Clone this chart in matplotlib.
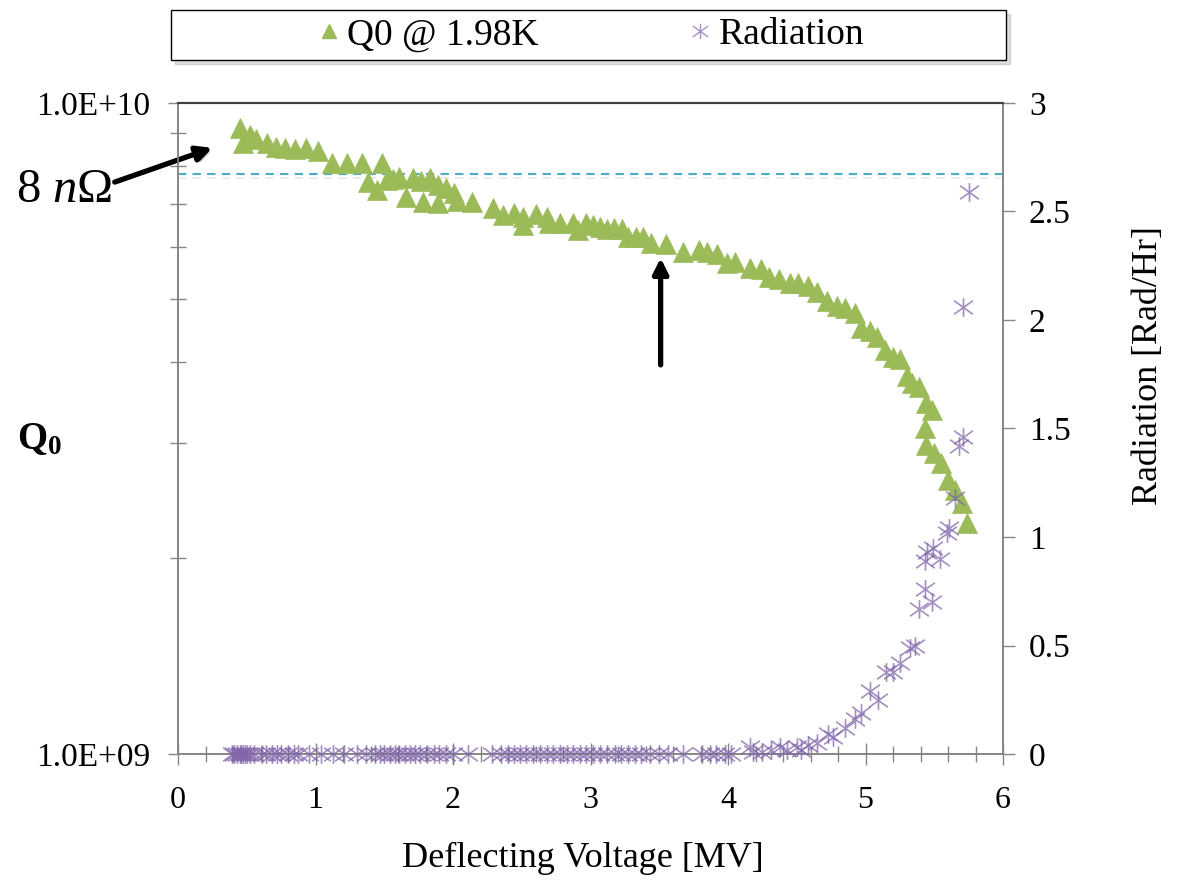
import matplotlib
matplotlib.use("Agg")
import matplotlib.pyplot as plt
import matplotlib.ticker as mticker
import matplotlib.patches as mpatches
import matplotlib.patheffects as pe
from matplotlib.path import Path
from matplotlib.lines import Line2D

plt.rcParams['font.family'] = ['Liberation Serif', 'DejaVu Serif']
plt.rcParams['mathtext.fontset'] = 'custom'
plt.rcParams['mathtext.rm'] = 'Liberation Serif'
plt.rcParams['mathtext.it'] = 'Liberation Serif:italic'
plt.rcParams['mathtext.bf'] = 'Liberation Serif:bold'

# ---------------- data ----------------
q_voltage = [0.45, 0.47, 0.52, 0.57, 0.65, 0.71, 0.78, 0.85, 0.93, 1.02,
             1.12, 1.23, 1.34, 1.38, 1.45, 1.48, 1.52, 1.56, 1.61, 1.66,
             1.71, 1.77, 1.78, 1.83, 1.89, 1.89, 1.95, 2.01, 2.03, 2.14,
             2.29, 2.36, 2.44, 2.51, 2.51, 2.60, 2.68, 2.70, 2.78, 2.87,
             2.91, 2.97, 3.02, 3.07, 3.12, 3.17, 3.23, 3.27, 3.33, 3.38,
             3.44, 3.55, 3.67, 3.79, 3.85, 3.92, 3.99, 4.05, 4.16, 4.24,
             4.30, 4.37, 4.45, 4.51, 4.58, 4.65, 4.72, 4.79, 4.85, 4.92,
             4.97, 5.03, 5.08, 5.14, 5.20, 5.25, 5.30, 5.34, 5.39, 5.44,
             5.48, 5.43, 5.44, 5.50, 5.55, 5.60, 5.65, 5.70, 5.74]
q0_values = [9.15e9, 8.68e9, 8.93e9, 8.80e9, 8.68e9, 8.56e9, 8.53e9, 8.50e9, 8.53e9, 8.44e9,
             8.09e9, 8.09e9, 8.09e9, 7.56e9, 7.35e9, 8.09e9, 7.62e9, 7.64e9, 7.70e9, 7.18e9,
             7.67e9, 7.59e9, 7.05e9, 7.67e9, 7.48e9, 7.02e9, 7.40e9, 7.27e9, 7.08e9, 7.05e9,
             6.90e9, 6.73e9, 6.78e9, 6.68e9, 6.49e9, 6.75e9, 6.68e9, 6.54e9, 6.54e9, 6.54e9,
             6.38e9, 6.54e9, 6.49e9, 6.45e9, 6.40e9, 6.43e9, 6.40e9, 6.23e9, 6.23e9, 6.23e9,
             6.10e9, 6.07e9, 5.90e9, 5.95e9, 5.90e9, 5.86e9, 5.68e9, 5.70e9, 5.58e9, 5.56e9,
             5.40e9, 5.37e9, 5.29e9, 5.29e9, 5.24e9, 5.13e9, 4.97e9, 4.88e9, 4.84e9, 4.76e9,
             4.51e9, 4.46e9, 4.37e9, 4.17e9, 4.07e9, 4.04e9, 3.81e9, 3.72e9, 3.66e9, 3.46e9,
             3.38e9, 3.17e9, 2.98e9, 2.90e9, 2.80e9, 2.64e9, 2.54e9, 2.43e9, 2.26e9]

rad_voltage = [0.39, 0.41, 0.43, 0.45, 0.46, 0.47, 0.49, 0.50, 0.52, 0.55,
               0.61, 0.64, 0.68, 0.72, 0.75, 0.80, 0.84, 0.87, 0.95, 1.04,
               1.13, 1.21, 1.30, 1.37, 1.43, 1.47, 1.50, 1.54, 1.58, 1.61,
               1.65, 1.69, 1.72, 1.76, 1.81, 1.86, 1.90, 1.95, 2.00, 2.11,
               2.28, 2.35, 2.40, 2.44, 2.49, 2.53, 2.58, 2.63, 2.68, 2.73,
               2.78, 2.83, 2.87, 2.92, 2.97, 3.02, 3.07, 3.12, 3.18, 3.22,
               3.27, 3.32, 3.37, 3.43, 3.50, 3.56, 3.67, 3.81, 3.87, 3.91,
               3.98, 4.02, 4.16, 4.18, 4.25, 4.31, 4.38, 4.43, 4.50, 4.53,
               4.58, 4.65, 4.73, 4.76, 4.85, 4.92, 4.97, 5.03, 5.09, 5.15,
               5.20, 5.25, 5.32, 5.36, 5.39, 5.43, 5.48, 5.43, 5.45, 5.49,
               5.54, 5.59, 5.61, 5.65, 5.68, 5.71, 5.71, 5.75]
rad_values = [0, 0, 0, 0, 0, 0, 0, 0, 0, 0,
              0, 0, 0, 0, 0, 0, 0, 0, 0, 0,
              0, 0, 0, 0, 0, 0, 0, 0, 0, 0,
              0, 0, 0, 0, 0, 0, 0, 0, 0, 0,
              0, 0, 0, 0, 0, 0, 0, 0, 0, 0,
              0, 0, 0, 0, 0, 0, 0, 0, 0, 0,
              0, 0, 0, 0, 0, 0, 0, 0, 0, 0,
              0, 0, 0.03, 0.01, 0.01, 0.02, 0.03, 0.02, 0.03, 0.02,
              0.04, 0.05, 0.09, 0.08, 0.12, 0.16, 0.19, 0.29, 0.25, 0.38,
              0.38, 0.42, 0.49, 0.50, 0.67, 0.76, 0.70, 0.89, 0.93, 0.95,
              0.90, 1.02, 1.04, 1.18, 1.42, 1.46, 2.06, 2.59]

q_8nohm = 7.78e9
x_ticks = [0, 1, 2, 3, 4, 5, 6]
rad_ticks = [0, 0.5, 1, 1.5, 2, 2.5, 3]
arrow1_head = (0.25, 8.53e9)
arrow1_tail = (-0.46, 7.56e9)
arrow2_head = (3.51, 5.78e9)
arrow2_tail = (3.51, 3.96e9)

GREEN = '#9BBB59'
PURPLE = '#7F63A8'
AQUA = '#4BACC6'
GRAY = '#868686'

# asterisk marker (vertical bar + X)
ast = Path([(0, -1), (0, 1), (-1, -0.72), (1, 0.72), (-1, 0.72), (1, -0.72)],
           [Path.MOVETO, Path.LINETO, Path.MOVETO, Path.LINETO, Path.MOVETO, Path.LINETO])

fig = plt.figure(figsize=(11.78, 8.85), dpi=100)
W, H = 1178, 885
ax = fig.add_axes([178 / W, 1 - 754 / H, (1003 - 178) / W, (754 - 103) / H])
ax2 = ax.twinx()

# 8 nOhm reference line
ax.axhline(q_8nohm, color=AQUA, lw=1.5, ls=(0, (4, 3)), zorder=1,
           path_effects=[pe.SimpleLineShadow(offset=(0, -3), shadow_color='gray', alpha=0.15),
                         pe.Normal()])

ax.plot(q_voltage, q0_values, ls='none', marker='^', ms=14.5, color=GREEN,
        mec=GREEN, mew=0.5, zorder=3, clip_on=False)
ax2.plot(rad_voltage, rad_values, ls='none', marker=ast, ms=13.5, mfc='none',
         mec=PURPLE, mew=1.2, alpha=0.72, clip_on=False, zorder=4)

ax.set_yscale('log')
ax.set_ylim(1e9, 1e10)
ax.set_xlim(0, 6)
ax2.set_ylim(0, 3)

ax.xaxis.set_major_locator(mticker.FixedLocator(x_ticks))
ax.xaxis.set_minor_locator(mticker.MultipleLocator(0.2))
ax.xaxis.set_major_formatter(mticker.FormatStrFormatter('%d'))
ax.yaxis.set_major_locator(mticker.LogLocator(base=10, numticks=5))
ax.yaxis.set_minor_locator(mticker.LogLocator(base=10, subs=range(2, 10), numticks=20))
ax.yaxis.set_major_formatter(mticker.FuncFormatter(lambda v, p: f"{v:.1E}"))
ax.yaxis.set_minor_formatter(mticker.NullFormatter())
ax2.yaxis.set_major_locator(mticker.FixedLocator(rad_ticks))
ax2.yaxis.set_major_formatter(mticker.FuncFormatter(lambda v, p: f"{v:g}"))

ax.tick_params(axis='x', which='major', direction='inout', length=16, width=1,
               color=GRAY, pad=15, labelsize=23)
ax.tick_params(axis='x', which='minor', direction='inout', length=11.5, width=1, color=GRAY)
ax.tick_params(axis='y', which='major', direction='out', length=7, width=1,
               color=GRAY, pad=13, labelsize=24)
ax.tick_params(axis='y', which='minor', direction='inout', length=12, width=1, color=GRAY)
ax2.tick_params(axis='y', which='major', direction='out', length=8.6, width=1,
                color=GRAY, pad=10, labelsize=24)

for a in (ax, ax2):
    for s in ('left', 'right', 'bottom'):
        a.spines[s].set_color(GRAY)
        a.spines[s].set_linewidth(1.2)
    a.spines['top'].set_color('#404040')
    a.spines['top'].set_linewidth(1.5)

# axis labels
fig.text(583 / W, 1 - 858 / H, 'Deflecting Voltage [MV]', fontsize=26,
         ha='center', va='center')
fig.text(40 / W, 1 - 440 / H, r'$\mathbf{Q_0}$', fontsize=28, ha='center', va='center')
fig.text(1148 / W, 1 - 366 / H, 'Radiation [Rad/Hr]', fontsize=26, rotation=90,
         ha='center', va='center')

# annotations
fig.text(64 / W, 1 - 190 / H, r'$8\ n\Omega$', fontsize=35, ha='center', va='center')
shadow = [pe.SimplePatchShadow(offset=(2, -2), alpha=0.3), pe.Normal()]
for head, tail in ((arrow1_head, arrow1_tail), (arrow2_head, arrow2_tail)):
    an = ax.annotate('', xy=head, xytext=tail, xycoords='data', textcoords='data',
                     annotation_clip=False,
                     arrowprops=dict(arrowstyle='-|>,head_length=0.9,head_width=0.45',
                                     color='black', lw=3.8, shrinkA=0, shrinkB=0))
    an.arrow_patch.set_path_effects(shadow)

# legend box
box = mpatches.Rectangle((171 / W, 1 - 60 / H), (1006 - 171) / W, 50 / H,
                         transform=fig.transFigure, facecolor='white',
                         edgecolor='black', lw=1, zorder=5)
shadow_box = mpatches.Shadow(box, 3 / W, -3 / H, alpha=0.18)
shadow_box.set_zorder(4)
fig.add_artist(shadow_box)
fig.add_artist(box)

handles = [Line2D([], [], ls='none', marker='^', ms=10, color=GREEN),
           Line2D([], [], ls='none', marker=ast, ms=11, mfc='none', mec=PURPLE,
                  mew=1.0, alpha=0.7)]
leg = fig.legend(handles, ['Q0 @ 1.98K', 'Radiation'], loc='center',
                 bbox_to_anchor=(591 / W, 1 - 35 / H), ncol=2, frameon=False,
                 fontsize=27, handlelength=0.6, handletextpad=0.2,
                 columnspacing=4.0, borderpad=0)
leg.set_zorder(6)

fig.savefig('out.png', dpi=100)
